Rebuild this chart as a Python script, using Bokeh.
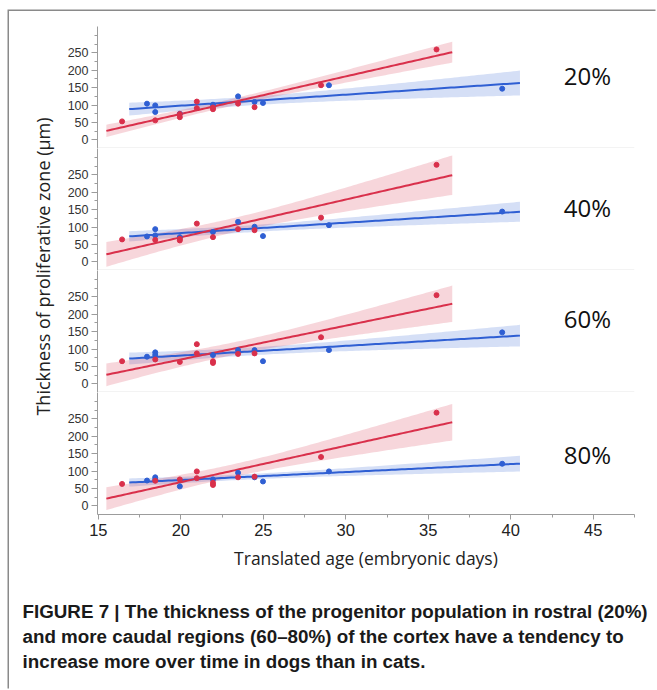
import numpy as np
from math import pi
from bokeh.plotting import figure
from bokeh.models import Range1d, FixedTicker, Label, Span
from bokeh.layouts import column, row
from bokeh.embed import file_html
from bokeh.resources import INLINE

# ---------------- data ----------------
panel_labels = ["20%", "40%", "60%", "80%"]

dog_age_20 = [16.44, 18.45, 19.94, 19.94, 20.97, 20.97, 21.95, 21.95, 23.47, 24.47, 28.5, 35.5]
dog_thk_20 = [53, 56, 74, 65, 110, 91, 88, 93, 104, 94, 157, 260]
cat_age_20 = [17.95, 18.45, 18.45, 19.94, 21.95, 23.47, 24.47, 24.98, 28.98, 39.48]
cat_thk_20 = [104, 99, 80, 75, 101, 125, 109, 106, 157, 147]

dog_age_40 = [16.44, 18.45, 19.94, 19.94, 20.97, 21.95, 23.47, 24.47, 28.5, 35.5]
dog_thk_40 = [64.5, 63, 61.5, 66, 110, 71, 94, 91, 127, 279]
cat_age_40 = [17.95, 18.45, 18.45, 19.94, 21.95, 23.47, 24.47, 24.98, 28.98, 39.48]
cat_thk_40 = [73, 94, 76, 71, 86, 115, 101, 74, 105.5, 144.5]

dog_age_60 = [16.44, 18.45, 19.94, 20.97, 20.97, 21.95, 21.95, 23.47, 24.47, 28.5, 35.5]
dog_thk_60 = [65, 70, 63, 114, 87.5, 65, 60, 86, 87.5, 134, 255]
cat_age_60 = [17.95, 18.45, 18.45, 21.95, 23.47, 24.47, 24.98, 28.98, 39.48]
cat_thk_60 = [78, 90.5, 82.7, 82.7, 97, 97, 65, 97, 148]

dog_age_80 = [16.44, 18.45, 19.94, 20.97, 20.97, 21.95, 21.95, 23.47, 24.47, 28.5, 35.5]
dog_thk_80 = [63, 72, 76, 99, 79.5, 66, 60, 82, 84, 140.5, 268]
cat_age_80 = [17.95, 18.45, 18.45, 19.94, 21.95, 23.47, 24.47, 24.98, 28.98, 39.48]
cat_thk_80 = [72.7, 82, 75.6, 56, 76, 95, 82, 70, 99, 121]

y_major = [0, 50, 100, 150, 200, 250]
y_minor = [25, 75, 125, 175, 225, 275, 300]
x_major = [15, 20, 25, 30, 35, 40, 45]
x_minor = [17.5, 22.5, 27.5, 32.5, 37.5, 42.5, 47.5]

caption_lines = [
    "FIGURE 7 | The thickness of the progenitor population in rostral (20%)",
    "and more caudal regions (60\u201380%) of the cortex have a tendency to",
    "increase more over time in dogs than in cats.",
]

T975 = {5: 2.571, 6: 2.447, 7: 2.365, 8: 2.306, 9: 2.262, 10: 2.228,
        11: 2.201, 12: 2.179, 13: 2.160, 14: 2.145}

RED = "#d9304b"
BLUE = "#2f5fd3"
AXC = "#9c9c9c"


def fit_band(x, y):
    x = np.asarray(x, float)
    y = np.asarray(y, float)
    n = len(x)
    b1, b0 = np.polyfit(x, y, 1)
    rng = x.max() - x.min()
    xs = np.linspace(x.min() - 0.05 * rng, x.max() + 0.05 * rng, 120)
    yh = b0 + b1 * xs
    resid = y - (b0 + b1 * x)
    s = np.sqrt(np.sum(resid ** 2) / (n - 2))
    sxx = np.sum((x - x.mean()) ** 2)
    se = s * np.sqrt(1.0 / n + (xs - x.mean()) ** 2 / sxx)
    t = T975[n - 2]
    return xs, yh, yh - t * se, yh + t * se


x_rng = Range1d(14.95, 47.5)

panels_data = [
    (dog_age_20, dog_thk_20, cat_age_20, cat_thk_20, 185),
    (dog_age_40, dog_thk_40, cat_age_40, cat_thk_40, 155),
    (dog_age_60, dog_thk_60, cat_age_60, cat_thk_60, 188),
    (dog_age_80, dog_thk_80, cat_age_80, cat_thk_80, 147),
]

figs = []
for i, (dx, dy, cx, cy, ly) in enumerate(panels_data):
    last = i == 3
    first = i == 0
    h = 122 + (15 if first else 0) + (61 if last else 0)
    p = figure(width=602, height=h, x_range=x_rng, y_range=Range1d(-25, 326),
               output_backend="svg", toolbar_location=None,
               x_axis_location="below" if last else None,
               min_border_left=42, min_border_right=23,
               min_border_top=15 if first else 0,
               min_border_bottom=61 if last else 0)
    p.grid.visible = False
    p.outline_line_color = None
    p.background_fill_color = "white"
    p.border_fill_color = "white"

    ya = p.yaxis[0]
    ya.ticker = FixedTicker(ticks=y_major, minor_ticks=y_minor)
    ya.axis_line_color = AXC
    ya.major_tick_line_color = AXC
    ya.minor_tick_line_color = AXC
    ya.major_tick_out = 6
    ya.major_tick_in = 0
    ya.minor_tick_out = 3
    ya.minor_tick_in = 0
    ya.major_label_text_font = "Liberation Sans"
    ya.major_label_text_font_size = "12.5px"
    ya.major_label_text_color = "#333333"
    ya.major_label_standoff = 3

    if last:
        xa = p.xaxis[0]
        xa.ticker = FixedTicker(ticks=x_major, minor_ticks=x_minor)
        xa.axis_line_color = AXC
        xa.major_tick_line_color = AXC
        xa.minor_tick_line_color = AXC
        xa.major_tick_out = 5
        xa.major_tick_in = 0
        xa.minor_tick_out = 3
        xa.minor_tick_in = 0
        xa.major_label_text_font = "Liberation Sans"
        xa.major_label_text_font_size = "16.5px"
        xa.major_label_text_color = "#222222"
        xa.major_label_standoff = 4
        xa.axis_label = "Translated age (embryonic days)"
        xa.axis_label_text_font = "Open Sans"
        xa.axis_label_text_font_size = "17.5px"
        xa.axis_label_text_font_style = "normal"
        xa.axis_label_text_color = "#222222"
        xa.axis_label_standoff = 7
    else:
        p.add_layout(Span(location=-24.3, dimension="width",
                          line_color="#cfcfcf", line_width=1))

    rxs, ryh, rlo, rhi = fit_band(dx, dy)
    bxs, byh, blo, bhi = fit_band(cx, cy)
    p.varea(x=bxs, y1=blo, y2=bhi, fill_color=BLUE, fill_alpha=0.2)
    p.varea(x=rxs, y1=rlo, y2=rhi, fill_color=RED, fill_alpha=0.2)
    p.line(bxs, byh, line_color=BLUE, line_width=2)
    p.line(rxs, ryh, line_color=RED, line_width=2)
    p.scatter(cx, cy, size=5, color=BLUE)
    p.scatter(dx, dy, size=5, color=RED)

    p.add_layout(Label(x=44.65, y=ly, text=panel_labels[i],
                       text_font="Open Sans", text_font_size="24px",
                       text_color="#111111", text_align="center",
                       text_baseline="middle"))
    figs.append(p)

total_h = sum(f.height for f in figs)

lab = figure(width=46, height=total_h, x_range=Range1d(0, 46),
             y_range=Range1d(0, total_h), output_backend="svg",
             toolbar_location=None, x_axis_location=None, y_axis_location=None,
             min_border=0)
lab.grid.visible = False
lab.outline_line_color = None
lab.add_layout(Label(x=33, y=total_h - 255, text="Thickness of proliferative zone (\u03bcm)",
                     angle=pi / 2, text_font="Open Sans", text_font_size="18px",
                     text_color="#222222", text_align="center", text_baseline="middle"))

cap = figure(width=648, height=115, x_range=Range1d(0, 648), y_range=Range1d(0, 115),
             output_backend="svg", toolbar_location=None,
             x_axis_location=None, y_axis_location=None, min_border=0)
cap.grid.visible = False
cap.outline_line_color = None
for k, (txt, yy) in enumerate(zip(caption_lines, [79, 54, 29])):
    cap.add_layout(Label(x=13, y=yy, text=txt, text_font="Liberation Sans",
                         text_font_style="bold", text_font_size="18.8px",
                         text_color="#1a1a1a", text_align="left",
                         text_baseline="middle"))

layout = column(row(lab, column(*figs)), cap,
                styles={"margin-left": "9px", "margin-top": "11px",
                        "box-shadow": "-1.5px -1.5px 0 0 #8a8a8a"})

open("out.html", "w").write(file_html(layout, INLINE))
